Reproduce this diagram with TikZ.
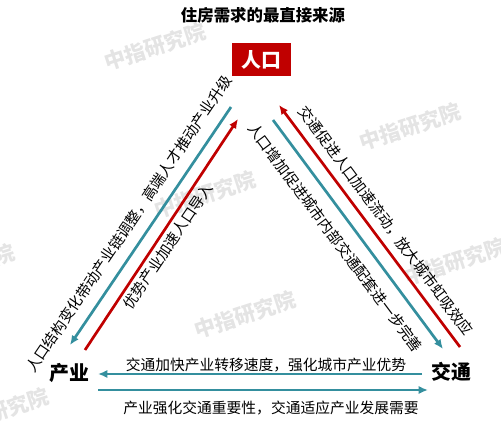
\documentclass[tikz,border=0pt]{standalone}
\usepackage{fontspec}
\setmainfont{Noto Sans CJK SC}
\usetikzlibrary{arrows.meta}
\definecolor{hongse}{RGB}{192,0,0}
\definecolor{qingse}{RGB}{52,143,158}
\definecolor{shuiyin}{RGB}{228,228,228}
\tikzset{
  biaozhu/.style={font=\fontsize{12.6}{14}\selectfont,inner sep=0pt},
  dajiao/.style={font=\fontsize{17}{18}\selectfont\bfseries,inner sep=0pt},
  shuiyinzi/.style={text=shuiyin,rotate=18,font=\fontsize{18}{18}\selectfont\bfseries}
}
\begin{document}
\begin{tikzpicture}[x=0.03cm,y=-0.03cm,>={Latex[length=8pt,width=7pt]},line width=2.3pt]
\useasboundingbox (0,0) rectangle (501,427);
% watermarks
\foreach \x/\y in {155/47,205/195,-36/268,245/315,410/127,455/262,-2/412}
  \node[shuiyinzi] at (\x,\y) {中指研究院};
\node[font=\fontsize{14}{14}\selectfont\bfseries] (biaoti) at (263,15) {住房需求的最直接来源};
\node[dajiao,fill=hongse,text=white,minimum width=1.77cm,minimum height=0.99cm] (renkou) at (261.5,59.5) {人口};
\node[dajiao] (chanye) at (69,373) {产业};
\node[dajiao] (jiaotong) at (451,372) {交通};
% arrow ends
\coordinate (zq1) at (231,107);
\coordinate (zq2) at (70,345);
\coordinate (zh1) at (85,350);
\coordinate (zh2) at (238,119);
\coordinate (yh1) at (460,347);
\coordinate (yh2) at (279,105);
\coordinate (yq1) at (273,120);
\coordinate (yq2) at (443,349);
\coordinate (xs1) at (422,374);
\coordinate (xs2) at (98,374);
\coordinate (xx1) at (98,390);
\coordinate (xx2) at (428,390);
\draw[qingse,->] (zq1) -- (zq2);
\draw[hongse,->] (zh1) -- (zh2);
\draw[hongse,->] (yh1) -- (yh2);
\draw[qingse,->] (yq1) -- (yq2);
\draw[qingse,->] (xs1) -- (xs2);
\draw[qingse,->] (xx1) -- (xx2);
% labels
\node[biaozhu,rotate=56] (zwai) at (129,224) {人口结构变化带动产业链调整，高端人才推动产业升级};
\node[biaozhu,rotate=56] (znei) at (168,246) {优势产业加速人口导入};
\node[biaozhu,rotate=-53.3] (ywai) at (386,221) {交通促进人口加速流动，放大城市虹吸效应};
\node[biaozhu,rotate=-53.3] (ynei) at (335.5,238) {人口增加促进城市内部交通配套进一步完善};
\node[biaozhu] (xshang) at (266,365) {交通加快产业转移速度，强化城市产业优势};
\node[biaozhu] (xxia) at (271,408) {产业强化交通重要性，交通适应产业发展需要};
\end{tikzpicture}
\end{document}
